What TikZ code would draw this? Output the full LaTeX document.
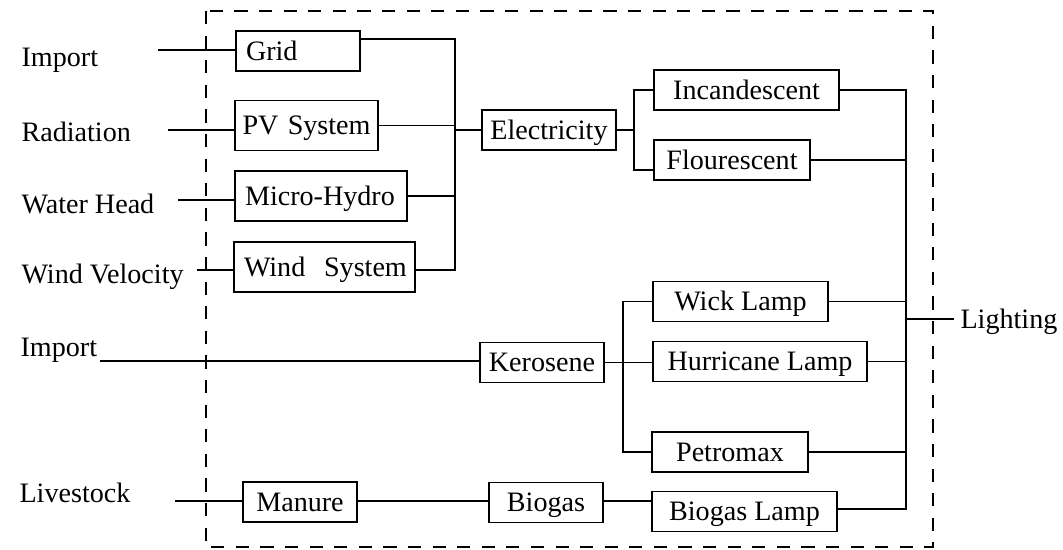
\documentclass[tikz,border=0pt]{standalone}
\usepackage{fontspec}
\setmainfont{Liberation Serif}
\usetikzlibrary{positioning}

\begin{document}
\begin{tikzpicture}[x=0.02cm, y=-0.02cm, line width=0.8pt,
		every node/.style={font=\fontsize{16}{19}\selectfont},
		box/.style={draw, minimum height=0.8cm, inner sep=0pt, text height=14.4pt, text depth=3.8pt},
		src/.style={box, align=left, inner xsep=0.2cm, minimum height=1cm},
		frame/.style={line width=1.3pt, dash pattern=on 7.5pt off 6.5pt}]
	\useasboundingbox (0,0) rectangle (1063,550);
	% System boundary:
	\draw[frame] (206,11) rectangle (933,547);
	% Inputs:
	\node[anchor=west] (imp1) at (15,60) {Import};
	\node[anchor=west] (rad) at (15,132) {Radiation};
	\node[anchor=west] (wat) at (15,204) {Water Head};
	\node[anchor=west] (wnd) at (15,277) {Wind Velocity};
	\node[anchor=west] (imp2) at (14,350) {Import};
	\node[anchor=west] (liv) at (13,493) {Livestock};
	\node[anchor=west] (light) at (954,322) {Lighting};
	\coordinate (i1) at (158,50);
	\coordinate (i2) at (168,130);
	\coordinate (i3) at (178,200);
	\coordinate (i4) at (197,270);
	\coordinate (i5) at (100,361);
	\coordinate (i6) at (175,501);
	% Conversion units:
	\node[src, minimum height=0.8cm, text width=2.08cm] (grid) at (298,51) {\mbox{Grid}};
	\node[src, inner xsep=0.15cm, text width=2.56cm] (pv) at (306.5,125.5) {\mbox{PV System}};
	\node[src, text width=3.04cm] (hydro) at (321,196) {\mbox{Micro-Hydro}};
	\node[src, text width=3.22cm] (wind) at (324.5,267) {\mbox{Wind\ \ System}};
	\node[box, minimum width=2.68cm] (elec) at (549,130) {Electricity};
	\node[box, minimum width=3.70cm] (inc) at (746.5,90) {Incandescent};
	\node[box, minimum width=3.12cm] (flu) at (732,160) {Flourescent};
	\node[box, minimum width=2.48cm] (kero) at (542,362.5) {Kerosene};
	\node[box, minimum width=3.50cm] (wick) at (740.5,301.5) {Wick Lamp};
	\node[box, minimum width=4.28cm] (hurr) at (760,361.5) {Hurricane Lamp};
	\node[box, minimum width=3.12cm] (petro) at (730,452) {Petromax};
	\node[box, minimum width=2.28cm] (manure) at (300,502) {Manure};
	\node[box, minimum width=2.28cm] (biogas) at (546,502.5) {Biogas};
	\node[box, minimum width=3.70cm] (blamp) at (744.5,511.5) {Biogas Lamp};
	% Junctions:
	\coordinate (b1t) at (455,39);
	\coordinate (b1b) at (455,270);
	\coordinate (e1) at (455,130);
	\coordinate (s1) at (634,130);
	\coordinate (s2) at (623,361);
	\coordinate (lb) at (906,509);
	\coordinate (lj) at (906,319);
	% Wires:
	\draw (i1) -- (i1 -| grid.west);
	\draw (i2) -- (i2 -| pv.west);
	\draw (i3) -- (i3 -| hydro.west);
	\draw (i4) -- (i4 -| wind.west);
	\draw (i5) -- (i5 -| kero.west);
	\draw (i6) -- (i6 -| manure.west);
	\draw (grid.east |- b1t) -- (b1t) -- (b1b) -- (wind.east |- b1b);
	\draw (pv.east) -- (pv.east -| e1);
	\draw (hydro.east) -- (hydro.east -| e1);
	\draw (e1) -- (elec.west);
	\draw (elec.east) -- (s1);
	\draw (inc.west) -| (s1) |- ([yshift=-0.2cm]flu.west);
	\draw (kero.east) -- (kero.east -| hurr.west);
	\draw (wick.west) -| (s2) |- (petro.west);
	\draw (manure.east |- i6) -- (biogas.west |- i6);
	\draw (biogas.east |- i6) -- (blamp.west |- i6);
	\draw (inc.east) -| (lb) -- (lb -| blamp.east);
	\foreach \n in {flu, wick, hurr, petro}
		\draw (\n.east) -- (\n.east -| lb);
	\draw (lj) -- (lj -| light.west);
\end{tikzpicture}
\end{document}
